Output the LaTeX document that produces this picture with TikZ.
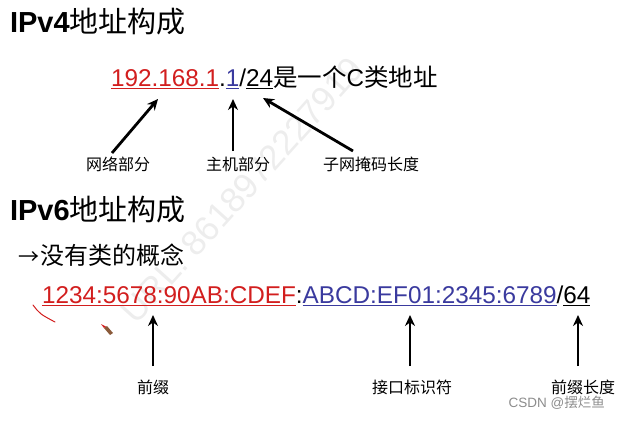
\documentclass[tikz,border=0pt]{standalone}
\usepackage{fontspec}
\setmainfont{Liberation Sans}
\newfontfamily\cjk{Noto Sans CJK SC}
\usetikzlibrary{arrows.meta}
\definecolor{ipred}{HTML}{D21E1E}
\definecolor{ipblue}{HTML}{3A3A9E}
\definecolor{pencil}{HTML}{8A5A3A}
\tikzset{
  txt/.style={inner sep=0pt, outer sep=0pt, anchor=base west},
  addr/.style={txt, font=\fontsize{24.3}{28}\selectfont},
  lbl/.style={inner sep=0pt, font=\cjk\fontsize{16}{18}\selectfont},
  arr/.style={line width=2.8pt, -{Stealth[length=11pt,width=10pt]}},
  uline/.style={line width=0.9pt},
}
\begin{document}
\begin{tikzpicture}[x=1pt,y=-1pt]
\useasboundingbox (0,0) rectangle (620,421);
% watermark
\node[rotate=48, text=black!7, inner sep=0pt, font=\fontsize{35}{35}\selectfont] (wm) at (242,190) {URL: 8618972227919};

% IPv4 title
\node[txt, font=\fontsize{29}{34}\selectfont] (t4) at (10,32) {\textbf{IPv4}{\cjk 地址构成}};

% IPv4 address line
\node[addr, text=ipred] (a1) at (111,86) {192.168.1};
\node[addr] (a2) at (a1.base east) {.};
\node[addr, text=ipblue] (a3) at (a2.base east) {1};
\node[addr] (a4) at (a3.base east) {/};
\node[addr] (a5) at (a4.base east) {24};
\node[addr] (a6) at (a5.base east) {{\cjk\fontsize{24.5}{28}\selectfont 是一个}C{\cjk\fontsize{24.5}{28}\selectfont 类地址}};
\draw[uline, ipred] ([yshift=-2.5pt]a1.base west) -- ([yshift=-2.5pt]a1.base east);
\draw[uline, ipblue] ([yshift=-2.5pt]a3.base west) -- ([yshift=-2.5pt]a3.base east);
\draw[uline, black] ([yshift=-2.5pt]a5.base west) -- ([yshift=-2.5pt]a5.base east);

% IPv4 labels and arrows
\node[lbl] (l1) at (118,164) {网络部分};
\node[lbl] (l2) at (238,164) {主机部分};
\node[lbl] (l3) at (371,164) {子网掩码长度};
\coordinate (h1) at (158,99);
\coordinate (h2) at (233,99);
\coordinate (h3) at (263,98);
\draw[arr] (112,153) -- (h1);
\draw[arr] (233,151) -- (h2);
\draw[arr] (353,151) -- (h3);

% IPv6 title
\node[txt, font=\fontsize{29}{34}\selectfont] (t6) at (10,220) {\textbf{IPv6}{\cjk 地址构成}};
\node[txt, font=\cjk\fontsize{21}{26}\selectfont] (ar) at (18,264) {→};
\node[txt, font=\cjk\fontsize{24}{28}\selectfont] (sub) at (40,264) {没有类的概念};

% IPv6 address line
\node[addr, text=ipred] (b1) at (42,303) {1234:5678:90AB:CDEF};
\node[addr] (b2) at (b1.base east) {:};
\node[addr, text=ipblue] (b3) at (b2.base east) {ABCD:EF01:2345:6789};
\node[addr] (b4) at (b3.base east) {/};
\node[addr] (b5) at (b4.base east) {64};
\draw[uline, ipred] ([yshift=-2.5pt]b1.base west) -- ([yshift=-2.5pt]b1.base east);
\draw[uline, ipblue] ([yshift=-2.5pt]b3.base west) -- ([yshift=-2.5pt]b3.base east);
\draw[uline, black] ([yshift=-2.5pt]b5.base west) -- ([yshift=-2.5pt]b5.base east);

% handwritten red stroke
\draw[ipred, line width=1pt, line cap=round] (33,305) .. controls (40,314) .. (55,322);
% pencil cursor
\fill[pencil] (104,328) -- (107,326) -- (113,333) -- (110,335) -- cycle;
\fill[ipred] (101,324) -- (104,328) -- (106,326.5) -- cycle;

% IPv6 labels and arrows
\node[lbl] (m1) at (153,387) {前缀};
\node[lbl] (m2) at (412,387) {接口标识符};
\node[lbl] (m3) at (583,387) {前缀长度};
\coordinate (g1) at (153,315);
\coordinate (g2) at (410,315);
\coordinate (g3) at (578,315);
\draw[arr] (153,366) -- (g1);
\draw[arr] (410,366) -- (g2);
\draw[arr] (578,366) -- (g3);

% credit
\node[inner sep=0pt, anchor=east, text=black!45, font=\fontsize{13.5}{16}\selectfont] (cr) at (605,403) {CSDN @{\cjk 摆烂鱼}};
\end{tikzpicture}
\end{document}
